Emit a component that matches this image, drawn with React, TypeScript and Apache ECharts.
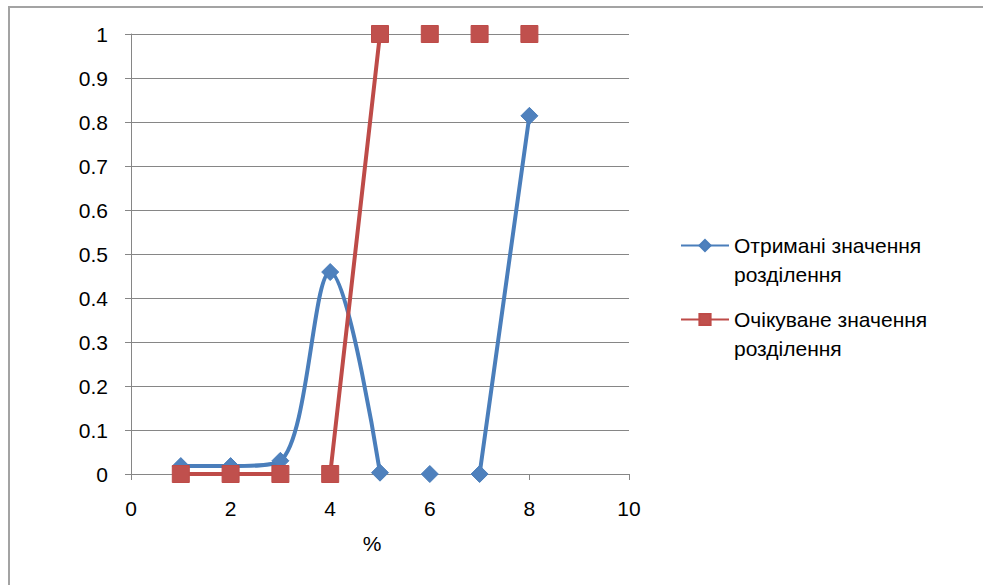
import React, { useEffect, useRef } from "react";
import * as echarts from "echarts";

// ---- data ----
const xValues = [1, 2, 3, 4, 5, 6, 7, 8];
const obtainedValues = [0.018, 0.018, 0.03, 0.459, 0.003, 0, 0, 0.814];
const expectedValues = [0, 0, 0, 0, 1, 1, 1, 1];
// curve segments (by start x) that are clipped away in the original chart
const obtainedHiddenSegments = [5, 6];
const expectedHiddenSegments = [3, 5, 6, 7];
const seriesNames = ["Отримані значення розділення", "Очікуване значення розділення"];
const xAxisName = "%";
const xRange = { min: 0, max: 10, interval: 2 };
const yRange = { min: 0, max: 1, interval: 0.1 };

function buildLine(xs: number[], ys: number[], hidden: number[]) {
  const out: any[] = [];
  xs.forEach((x, i) => {
    out.push([x, ys[i]]);
    if (i < xs.length - 1 && hidden.includes(x)) out.push([(x + xs[i + 1]) / 2, "-"]);
  });
  return out;
}

const FONT = "Liberation Sans";
const AXIS_GRAY = "#868686";

export default function App() {
  const ref = useRef<HTMLDivElement>(null);
  useEffect(() => {
    if (!ref.current) return;
    const chart = echarts.init(ref.current, undefined, { renderer: "svg" });
    const option: any = {
      animation: false,
      textStyle: { fontFamily: FONT },
      graphic: [
        {
          type: "rect",
          silent: true,
          shape: { x: 9, y: 7, width: 1000, height: 620 },
          style: { fill: "none", stroke: "#a3a3a3", lineWidth: 2 },
        },
      ],
      grid: { left: 131, top: 34, width: 498, height: 440 },
      xAxis: {
        type: "value",
        min: xRange.min,
        max: xRange.max,
        interval: xRange.interval,
        name: xAxisName,
        nameLocation: "middle",
        nameGap: 59,
        nameTextStyle: { fontSize: 21, color: "#000", fontFamily: FONT, padding: [0, 16, 0, 0] },
        axisLine: { show: true, lineStyle: { color: AXIS_GRAY, width: 1 } },
        axisTick: { show: true, length: 6, lineStyle: { color: AXIS_GRAY } },
        axisLabel: { fontSize: 21, color: "#000", margin: 24, fontFamily: FONT },
        splitLine: { show: false },
      },
      yAxis: {
        type: "value",
        min: yRange.min,
        max: yRange.max,
        interval: yRange.interval,
        axisLine: { show: true, lineStyle: { color: AXIS_GRAY, width: 1 } },
        axisTick: { show: true, length: 6, lineStyle: { color: AXIS_GRAY } },
        axisLabel: { fontSize: 21, color: "#000", margin: 23, fontFamily: FONT },
        splitLine: { show: true, lineStyle: { color: AXIS_GRAY, width: 1 } },
      },
      legend: {
        data: seriesNames,
        orient: "vertical",
        left: 680,
        top: 202,
        padding: 0,
        itemWidth: 48,
        itemHeight: 14,
        itemGap: -13,
        selectedMode: false,
        formatter: (name: string) => "\n" + name.replace(" розділення", "\nрозділення"),
        textStyle: {
          fontSize: 21,
          color: "#000",
          fontFamily: FONT,
          lineHeight: 29,
        },
      },
      series: [
        {
          name: seriesNames[0],
          type: "line",
          data: buildLine(xValues, obtainedValues, obtainedHiddenSegments),
          smooth: 0.35,
          connectNulls: false,
          symbol: "diamond",
          symbolSize: 17,
          showSymbol: true,
          showAllSymbol: true,
          lineStyle: { color: "#4A7EBB", width: 4 },
          itemStyle: { color: "#4F81BD", borderColor: "#4A7EBB", borderWidth: 1 },
        },
        {
          name: seriesNames[1],
          type: "line",
          data: buildLine(xValues, expectedValues, expectedHiddenSegments),
          smooth: 0.35,
          connectNulls: false,
          symbol: "rect",
          symbolSize: 17,
          showSymbol: true,
          showAllSymbol: true,
          lineStyle: { color: "#BE4B48", width: 4 },
          itemStyle: { color: "#C0504D", borderColor: "#BE4B48", borderWidth: 1 },
        },
      ],
    };
    chart.setOption(option);
    return () => chart.dispose();
  }, []);
  return (
    <div
      ref={ref}
      style={{ position: "fixed", left: 0, top: 0, width: 983, height: 585, background: "#fff" }}
    />
  );
}
